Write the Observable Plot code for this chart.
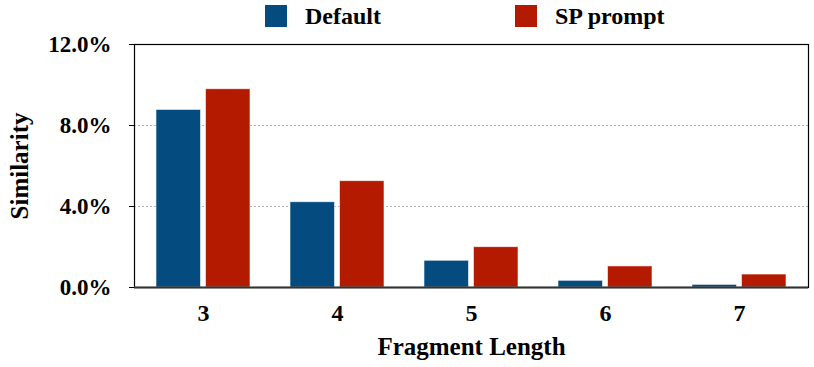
<!DOCTYPE html>
<html>
<head>
<meta charset="utf-8">
<script src="https://cdn.jsdelivr.net/npm/d3@7"></script>
<script src="https://cdn.jsdelivr.net/npm/@observablehq/plot@0.6"></script>
<style>
  html, body { margin: 0; padding: 0; background: #fff; }
  body { position: relative; width: 814px; height: 367px; overflow: hidden; font-family: "Liberation Serif", "Times New Roman", serif; }
  #legend { position: absolute; left: 0; top: 0; width: 814px; height: 34px; font-weight: bold; font-size: 24px; z-index: 2; }
  .sw { position: absolute; top: 5px; width: 22px; height: 22px; }
  .lb { position: absolute; top: 1px; line-height: 30px; }
</style>
</head>
<body>
<div id="chart"></div>
<div id="legend"></div>
<script>
const lengths = [3, 4, 5, 6, 7];
const series = ["Default", "SP prompt"];
const colors = ["#044b7f", "#b41a00"];
const defaultValues = [8.77, 4.21, 1.32, 0.33, 0.13];
const spValues = [9.79, 5.25, 1.99, 1.04, 0.64];
const yTicks = [0, 4, 8, 12];

const data = [];
lengths.forEach((len, i) => {
  data.push({length: len, series: series[0], value: defaultValues[i]});
  data.push({length: len, series: series[1], value: spValues[i]});
});

// legend
const legend = document.getElementById("legend");
const legendPos = [[265, 305], [515, 555]];
series.forEach((s, i) => {
  const sw = document.createElement("div");
  sw.className = "sw";
  sw.style.left = legendPos[i][0] + "px";
  sw.style.background = colors[i];
  legend.appendChild(sw);
  const lb = document.createElement("div");
  lb.className = "lb";
  lb.style.left = legendPos[i][1] + "px";
  lb.textContent = s;
  legend.appendChild(lb);
});

const barStyle = {stroke: "white", strokeWidth: 0.8, strokeOpacity: 0.7};

const chart = Plot.plot({
  width: 814,
  height: 367,
  marginLeft: 134,
  marginRight: 6,
  marginTop: 44,
  marginBottom: 80,
  style: {fontFamily: "'Liberation Serif', 'Times New Roman', serif", fontWeight: "bold", color: "#000", background: "#fff"},
  x: {type: "band", domain: lengths, paddingInner: 0.3, paddingOuter: 0.15},
  y: {domain: [0, 12]},
  color: {domain: series, range: colors},
  marks: [
    Plot.gridY([4, 8], {stroke: "#b0b0b0", strokeOpacity: 1, strokeDasharray: "2,2"}),
    Plot.barY(data.filter(d => d.series === series[0]), {x: "length", y: "value", fill: "series", insetLeft: 0, insetRight: 49.5, ...barStyle}),
    Plot.barY(data.filter(d => d.series === series[1]), {x: "length", y: "value", fill: "series", insetLeft: 49.5, insetRight: 0, ...barStyle}),
    Plot.frame({stroke: "#000", strokeWidth: 1.2}),
    Plot.ruleY([0], {stroke: "#333", strokeWidth: 2}),
    Plot.axisY({ticks: yTicks, tickFormat: d => d.toFixed(1) + "%", tickSize: 5, tickPadding: 18, fontSize: 23, fontWeight: "bold",
      label: null}),
    Plot.axisY({ticks: [], fontSize: 25, fontWeight: "bold",
      label: "Similarity", labelAnchor: "center", labelOffset: 124, labelArrow: "none"}),
    Plot.axisX({tickSize: 0, tickPadding: 16, fontSize: 24, fontWeight: "bold",
      label: null}),
    Plot.axisX({tickSize: 0, ticks: [], fontSize: 25, fontWeight: "bold",
      label: "Fragment Length", labelAnchor: "center", labelOffset: 67, labelArrow: "none"})
  ]
});
document.getElementById("chart").appendChild(chart);
</script>
</body>
</html>
